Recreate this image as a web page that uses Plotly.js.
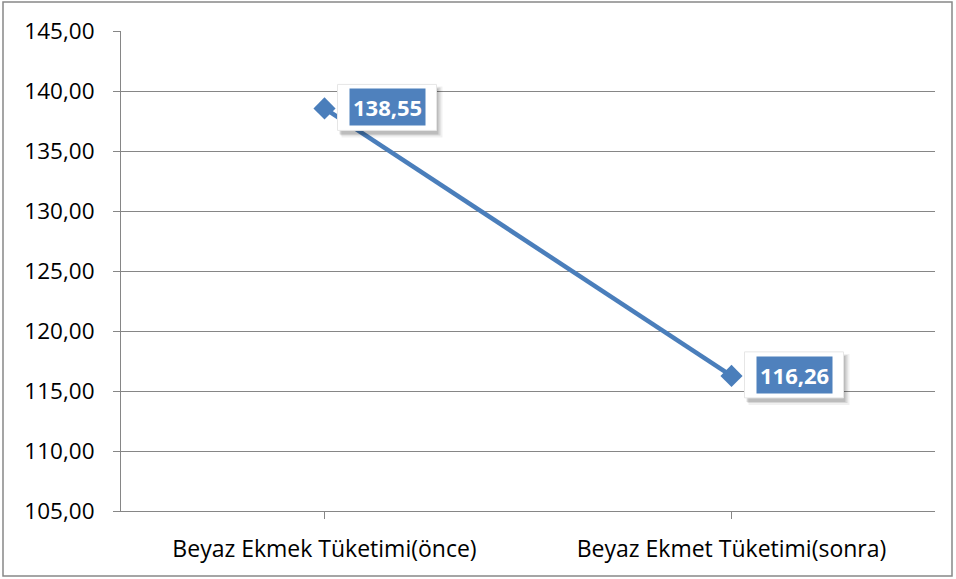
<!DOCTYPE html>
<html>
<head>
<meta charset="utf-8">
<script src="https://cdn.plot.ly/plotly-3.0.1.min.js"></script>
<style>
html,body{margin:0;padding:0;background:#fff;}
#chart{width:956px;height:579px;}
</style>
</head>
<body>
<div id="chart"></div>
<script>
var categories = ["Beyaz Ekmek Tüketimi(önce)", "Beyaz Ekmet Tüketimi(sonra)"];
var values = [138.55, 116.26];
var labels = ["138,55", "116,26"];
var yTicks = [105, 110, 115, 120, 125, 130, 135, 140, 145];

var blue = "#4A7EBB";
var font = "Open Sans, Liberation Sans, sans-serif";

var trace = {
  x: [0, 1],
  y: values,
  type: "scatter",
  mode: "lines+markers",
  line: {color: blue, width: 4.5},
  marker: {symbol: "diamond", size: 17, color: blue},
  hoverinfo: "none"
};

var annotations = [];
var shapes = [];
for (var i = 0; i < values.length; i++) {
  [[0.06, 17, 118, -29, 22], [0.10, 16, 116, -27, 21], [0.12, 15, 114, -26, 20]].forEach(function (s) {
    shapes.push({
      type: "rect", layer: "above",
      xref: "x", yref: "y", xsizemode: "pixel", ysizemode: "pixel",
      xanchor: i, yanchor: values[i],
      x0: s[1], x1: s[2], y0: s[3], y1: s[4],
      line: {width: 0}, fillcolor: "rgba(0,0,0," + s[0] + ")"
    });
  });
  shapes.push({
    type: "rect", layer: "above",
    xref: "x", yref: "y", xsizemode: "pixel", ysizemode: "pixel",
    xanchor: i, yanchor: values[i],
    x0: 13, x1: 112, y0: -22, y1: 24,
    line: {color: "#e6e6e6", width: 1}, fillcolor: "#ffffff"
  });
  annotations.push({
    x: i, y: values[i], xref: "x", yref: "y",
    text: "<b>" + labels[i] + "</b>", showarrow: false,
    xshift: 62.5, yshift: 1,
    font: {family: font, size: 22, color: "#ffffff"},
    bgcolor: "#4F81BD", borderpad: 3
  });
}

shapes.push({
  type: "rect", xref: "paper", yref: "paper", layer: "below",
  x0: (3 - 121) / 814, x1: (952 - 121) / 814,
  y0: (579 - 68 - 576) / 480, y1: (579 - 68 - 2) / 480,
  line: {color: "#888888", width: 1.5}, fillcolor: "rgba(0,0,0,0)"
});

var layout = {
  width: 956, height: 579,
  margin: {l: 121, r: 21, t: 31, b: 68},
  paper_bgcolor: "#ffffff",
  plot_bgcolor: "#ffffff",
  separators: ",.",
  showlegend: false,
  font: {family: font, size: 22, color: "#000000"},
  xaxis: {
    type: "linear",
    range: [-0.5, 1.5],
    tickvals: [0, 1],
    ticktext: categories,
    showgrid: false,
    zeroline: false,
    showline: true, linecolor: "#868686", linewidth: 1,
    ticks: "outside", ticklen: 7, tickcolor: "#868686",
    tickson: "boundaries",
    ticklabelstandoff: 10,
    tickfont: {family: font, size: 23, color: "#000"},
    fixedrange: true
  },
  yaxis: {
    range: [105, 145],
    tickvals: yTicks,
    tickformat: ".2f",
    showgrid: true, gridcolor: "#868686", gridwidth: 1,
    zeroline: false,
    showline: true, linecolor: "#868686", linewidth: 1,
    ticks: "outside", ticklen: 7, tickcolor: "#868686",
    ticklabelstandoff: 14,
    tickfont: {family: font, size: 22.5, color: "#000"},
    fixedrange: true
  },
  annotations: annotations,
  shapes: shapes
};

Plotly.newPlot("chart", [trace], layout, {displayModeBar: false, staticPlot: true});
</script>
</body>
</html>
